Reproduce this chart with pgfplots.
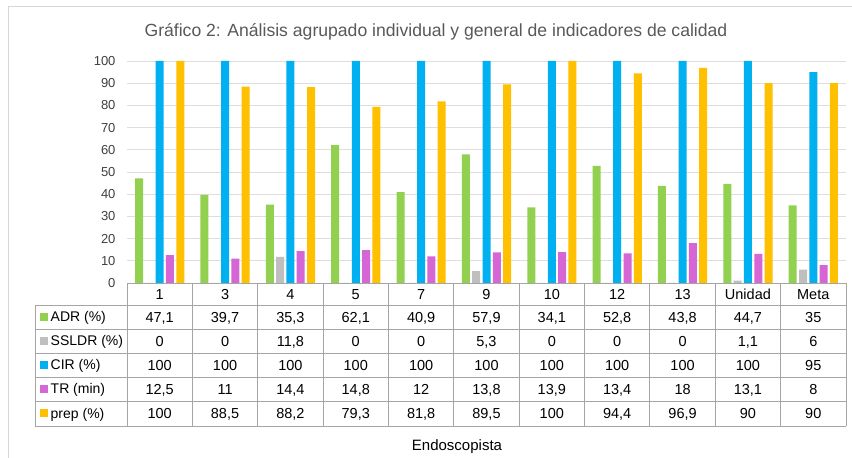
\documentclass[border=0pt]{standalone}
\usepackage{pgfplots}
\usepackage{pgfplotstable}
\pgfplotsset{compat=1.18}
\usepackage{fontspec}
\setmainfont{Liberation Sans}
\definecolor{cADR}{RGB}{146,208,80}
\definecolor{cSS}{RGB}{191,191,191}
\definecolor{cCIR}{RGB}{0,176,240}
\definecolor{cTR}{RGB}{214,102,214}
\definecolor{cPrep}{RGB}{255,192,0}
\definecolor{txtgray}{RGB}{89,89,89}
\definecolor{ticktxt}{RGB}{64,64,64}
\definecolor{gridc}{RGB}{222,222,222}
\definecolor{framec}{RGB}{215,215,215}
\definecolor{tablec}{RGB}{165,165,165}

\pgfplotstableread{
cat ADR SSLDR CIR TR prep
1 47.1 0 100 12.5 100
3 39.7 0 100 11 88.5
4 35.3 11.8 100 14.4 88.2
5 62.1 0 100 14.8 79.3
7 40.9 0 100 12 81.8
9 57.9 5.3 100 13.8 89.5
10 34.1 0 100 13.9 100
12 52.8 0 100 13.4 94.4
13 43.8 0 100 18 96.9
Unidad 44.7 1.1 100 13.1 90
Meta 35 6 95 8 90
}\datatable

\begin{document}
\begin{tikzpicture}[x=1pt,y=1pt]
\useasboundingbox (0,0) rectangle (852,458);
\fill[white] (0,0) rectangle (852,458);
\draw[framec, line width=1pt] (8,-2) -- (8,451) -- (854,451);
\node[txtgray, font=\fontsize{17.6}{20}\selectfont] at (436,426) {Gráfico 2: Análisis agrupado individual y general de indicadores de calidad};
\begin{axis}[at={(127pt,175pt)}, anchor=south west, scale only axis,
  width=719pt, height=222pt,
  xmin=-0.5, xmax=10.5, ymin=0, ymax=100,
  ytick={0,10,...,100}, xtick=\empty,
  axis line style={draw=none},
  ymajorgrids, grid style={gridc, line width=0.8pt},
  major tick style={draw=none},
  yticklabel style={ticktxt, font=\fontsize{13}{14}\selectfont, xshift=-8pt},
  /pgf/number format/assume math mode=true,
  ybar, bar width=8pt, clip=false]
\addplot[fill=cADR, draw=none, bar shift=-20.6pt] table[x expr=\coordindex, y=ADR]{\datatable};
\addplot[fill=cSS, draw=none, bar shift=-10.3pt] table[x expr=\coordindex, y=SSLDR]{\datatable};
\addplot[fill=cCIR, draw=none, bar shift=0pt] table[x expr=\coordindex, y=CIR]{\datatable};
\addplot[fill=cTR, draw=none, bar shift=10.3pt] table[x expr=\coordindex, y=TR]{\datatable};
\addplot[fill=cPrep, draw=none, bar shift=20.6pt] table[x expr=\coordindex, y=prep]{\datatable};
\end{axis}
% data table
\draw[tablec, line width=0.9pt] (127,175) -- (846,175);
\foreach \yy in {153,129,105,81,57,32} {\draw[tablec, line width=0.9pt] (35,\yy) -- (846,\yy);}
\draw[tablec, line width=0.9pt] (35,153) -- (35,32);
\foreach \k in {0,...,11} {\draw[tablec, line width=0.9pt] ({127+65.36*\k},175) -- ({127+65.36*\k},32);}
\foreach \i in {0,...,10} {
  \pgfplotstablegetelem{\i}{cat}\of\datatable
  \node[anchor=base, inner sep=0pt, font=\fontsize{14.5}{16}\selectfont] at ({127+65.36*(\i+0.5)},158.8) {\pgfplotsretval};
  \foreach \c/\yy in {ADR/141,SSLDR/117,CIR/93,TR/69,prep/44.5} {
    \pgfplotstablegetelem{\i}{\c}\of\datatable
    \node[anchor=base, inner sep=0pt, font=\fontsize{14.5}{16}\selectfont] at ({127+65.36*(\i+0.5)},\yy-5.2) {\pgfmathprintnumber[use comma, fixed, precision=1, assume math mode=true]{\pgfplotsretval}};
  }
}
\foreach \col/\lab/\yy in {cADR/ADR (\%)/141, cSS/SSLDR (\%)/117, cCIR/CIR (\%)/93, cTR/TR (min)/69, cPrep/prep (\%)/44.5} {
  \fill[\col] (40,\yy-4) rectangle (48,\yy+4);
  \node[anchor=base west, inner sep=0pt, font=\fontsize{14}{15}\selectfont] at (50.5,\yy-5) {\lab};
}
\node[font=\fontsize{15}{17}\selectfont] at (457,11) {Endoscopista};
\end{tikzpicture}
\end{document}
